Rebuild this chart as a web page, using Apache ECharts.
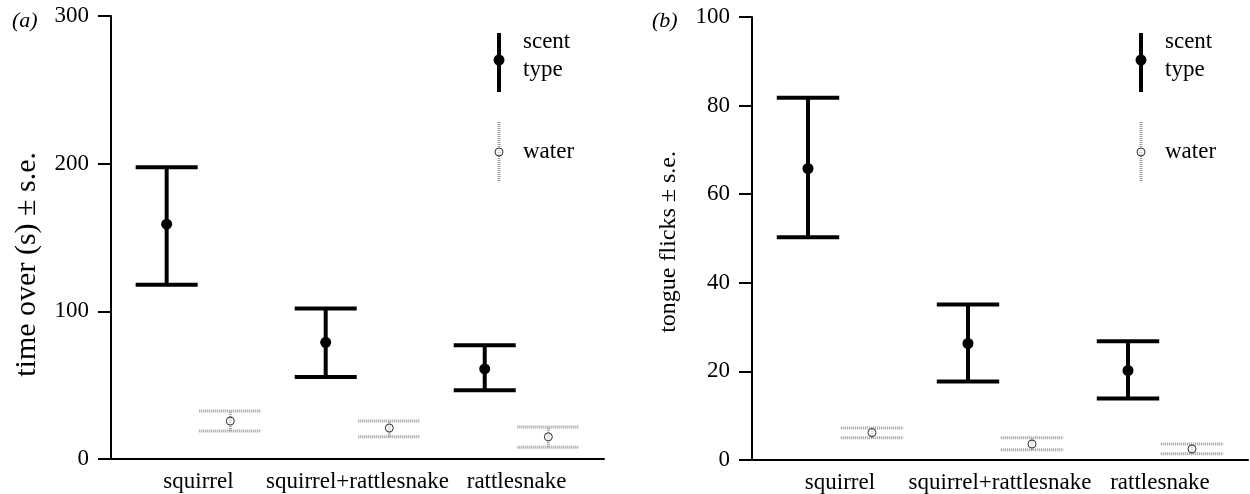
<!DOCTYPE html>
<html>
<head>
<meta charset="utf-8">
<title>scent type vs water</title>
<script src="https://cdn.jsdelivr.net/npm/echarts@6/dist/echarts.min.js"></script>
<style>
  html, body { margin: 0; padding: 0; background: #fff; }
  #chart { width: 1250px; height: 494px; }
</style>
</head>
<body>
<div id="chart"></div>
<script>
  // categories on the x axis
  var categories = ['squirrel', 'squirrel+rattlesnake', 'rattlesnake'];

  // (a) time over (s)
  var timeScentMean = [159, 79, 61];
  var timeScentLow = [118, 55.5, 46.5];
  var timeScentHigh = [197.5, 102, 77];
  var timeWaterMean = [25.7, 21, 15];
  var timeWaterLow = [19, 15, 8];
  var timeWaterHigh = [32.5, 25.7, 21.7];

  // (b) tongue flicks
  var flickScentMean = [65.8, 26.3, 20.2];
  var flickScentLow = [50.3, 17.7, 13.9];
  var flickScentHigh = [81.8, 35.1, 26.8];
  var flickWaterMean = [6.2, 3.6, 2.5];
  var flickWaterLow = [5, 2.3, 1.4];
  var flickWaterHigh = [7.2, 5, 3.6];

  var timeTicks = [0, 100, 200, 300];
  var flickTicks = [0, 20, 40, 60, 80, 100];

  var FONT = "'Liberation Serif', 'Times New Roman', serif";
  var OFFSET = 0.2; // scent left of category, water right of it

  function rows(mean, low, high, shift) {
    return mean.map(function (m, i) {
      return [i + 1 + shift, m, low[i], high[i]];
    });
  }

  // error bar drawn through the axes: stem, two caps, mean marker
  function errorBar(kind) {
    return function (params, api) {
      var x = api.value(0);
      var pm = api.coord([x, api.value(1)]);
      var pl = api.coord([x, api.value(2)]);
      var ph = api.coord([x, api.value(3)]);
      var half = api.size([0.39, 0])[0] / 2;
      var lineStyle = kind === 'scent'
        ? {stroke: '#000', lineWidth: 4}
        : {stroke: '#9a9a9a', lineWidth: 3, lineDash: [1, 1]};
      var children = [
        {type: 'line', shape: {x1: pl[0], y1: pl[1], x2: ph[0], y2: ph[1]}, style: lineStyle},
        {type: 'line', shape: {x1: ph[0] - half, y1: ph[1], x2: ph[0] + half, y2: ph[1]}, style: lineStyle},
        {type: 'line', shape: {x1: pl[0] - half, y1: pl[1], x2: pl[0] + half, y2: pl[1]}, style: lineStyle}
      ];
      if (kind === 'scent') {
        children.push({type: 'circle', shape: {cx: pm[0], cy: pm[1], r: 5.5}, style: {fill: '#000'}});
      } else {
        children.push({type: 'circle', shape: {cx: pm[0], cy: pm[1], r: 4},
          style: {fill: 'rgba(255,255,255,0.5)', stroke: '#333', lineWidth: 1}});
      }
      return {type: 'group', children: children};
    };
  }

  function xAxisOf(gridIndex) {
    return {
      type: 'value', gridIndex: gridIndex, min: 0.45, max: 3.55,
      splitLine: {show: false},
      axisLine: {show: true, lineStyle: {color: '#000', width: 2}},
      axisTick: {show: false},
      axisLabel: {
        customValues: [1, 2, 3], margin: 11,
        color: '#000', fontFamily: FONT, fontSize: 23,
        formatter: function (v) { return categories[Math.round(v) - 1]; }
      }
    };
  }

  function yAxisOf(gridIndex, ticks) {
    return {
      type: 'value', gridIndex: gridIndex,
      min: ticks[0], max: ticks[ticks.length - 1], interval: ticks[1] - ticks[0],
      splitLine: {show: false},
      axisLine: {show: true, lineStyle: {color: '#000', width: 2}},
      axisTick: {show: true, length: 13, lineStyle: {color: '#000', width: 2}},
      axisLabel: {margin: 22, color: '#000', fontFamily: FONT, fontSize: 23}
    };
  }

  function legend(x) {
    var txt = {fill: '#000', font: '23px ' + FONT, textVerticalAlign: 'middle'};
    return [
      {type: 'line', shape: {x1: x, y1: 33, x2: x, y2: 92}, style: {stroke: '#000', lineWidth: 4}},
      {type: 'circle', shape: {cx: x, cy: 60, r: 5.5}, style: {fill: '#000'}},
      {type: 'text', left: x + 24, top: 30, style: Object.assign({text: 'scent'}, txt)},
      {type: 'text', left: x + 24, top: 58, style: Object.assign({text: 'type'}, txt)},
      {type: 'line', shape: {x1: x, y1: 122, x2: x, y2: 182},
        style: {stroke: '#9a9a9a', lineWidth: 3, lineDash: [1, 1]}},
      {type: 'circle', shape: {cx: x, cy: 152, r: 4},
        style: {fill: 'rgba(255,255,255,0.5)', stroke: '#333', lineWidth: 1}},
      {type: 'text', left: x + 24, top: 140, style: Object.assign({text: 'water'}, txt)}
    ];
  }

  var myChart = echarts.init(document.getElementById('chart'));
  var option = {
    backgroundColor: '#fff',
    animation: false,
    grid: [
      {left: 111, top: 16, width: 493, height: 443},
      {left: 752, top: 17, width: 496, height: 444}
    ],
    xAxis: [xAxisOf(0), xAxisOf(1)],
    yAxis: [yAxisOf(0, timeTicks), yAxisOf(1, flickTicks)],
    graphic: [
      {type: 'text', left: 12, top: 10, style: {text: '(a)', fill: '#000', font: 'italic 22px ' + FONT}},
      {type: 'text', left: 652, top: 10, style: {text: '(b)', fill: '#000', font: 'italic 22px ' + FONT}},
      // axis names, rotated, anchored at their top end
      {type: 'text', x: 27, y: 152, rotation: Math.PI / 2,
        style: {text: 'time over (s) ± s.e.', fill: '#000', font: '30px ' + FONT,
          textAlign: 'right', textVerticalAlign: 'middle'}},
      {type: 'text', x: 669, y: 151, rotation: Math.PI / 2,
        style: {text: 'tongue flicks ± s.e.', fill: '#000', font: '24px ' + FONT,
          textAlign: 'right', textVerticalAlign: 'middle'}}
    ].concat(legend(499), legend(1141)),
    series: [
      {name: 'scent type', type: 'custom', xAxisIndex: 0, yAxisIndex: 0,
        renderItem: errorBar('scent'), data: rows(timeScentMean, timeScentLow, timeScentHigh, -OFFSET)},
      {name: 'water', type: 'custom', xAxisIndex: 0, yAxisIndex: 0,
        renderItem: errorBar('water'), data: rows(timeWaterMean, timeWaterLow, timeWaterHigh, OFFSET)},
      {name: 'scent type', type: 'custom', xAxisIndex: 1, yAxisIndex: 1,
        renderItem: errorBar('scent'), data: rows(flickScentMean, flickScentLow, flickScentHigh, -OFFSET)},
      {name: 'water', type: 'custom', xAxisIndex: 1, yAxisIndex: 1,
        renderItem: errorBar('water'), data: rows(flickWaterMean, flickWaterLow, flickWaterHigh, OFFSET)}
    ]
  };
  myChart.setOption(option);
</script>
</body>
</html>
